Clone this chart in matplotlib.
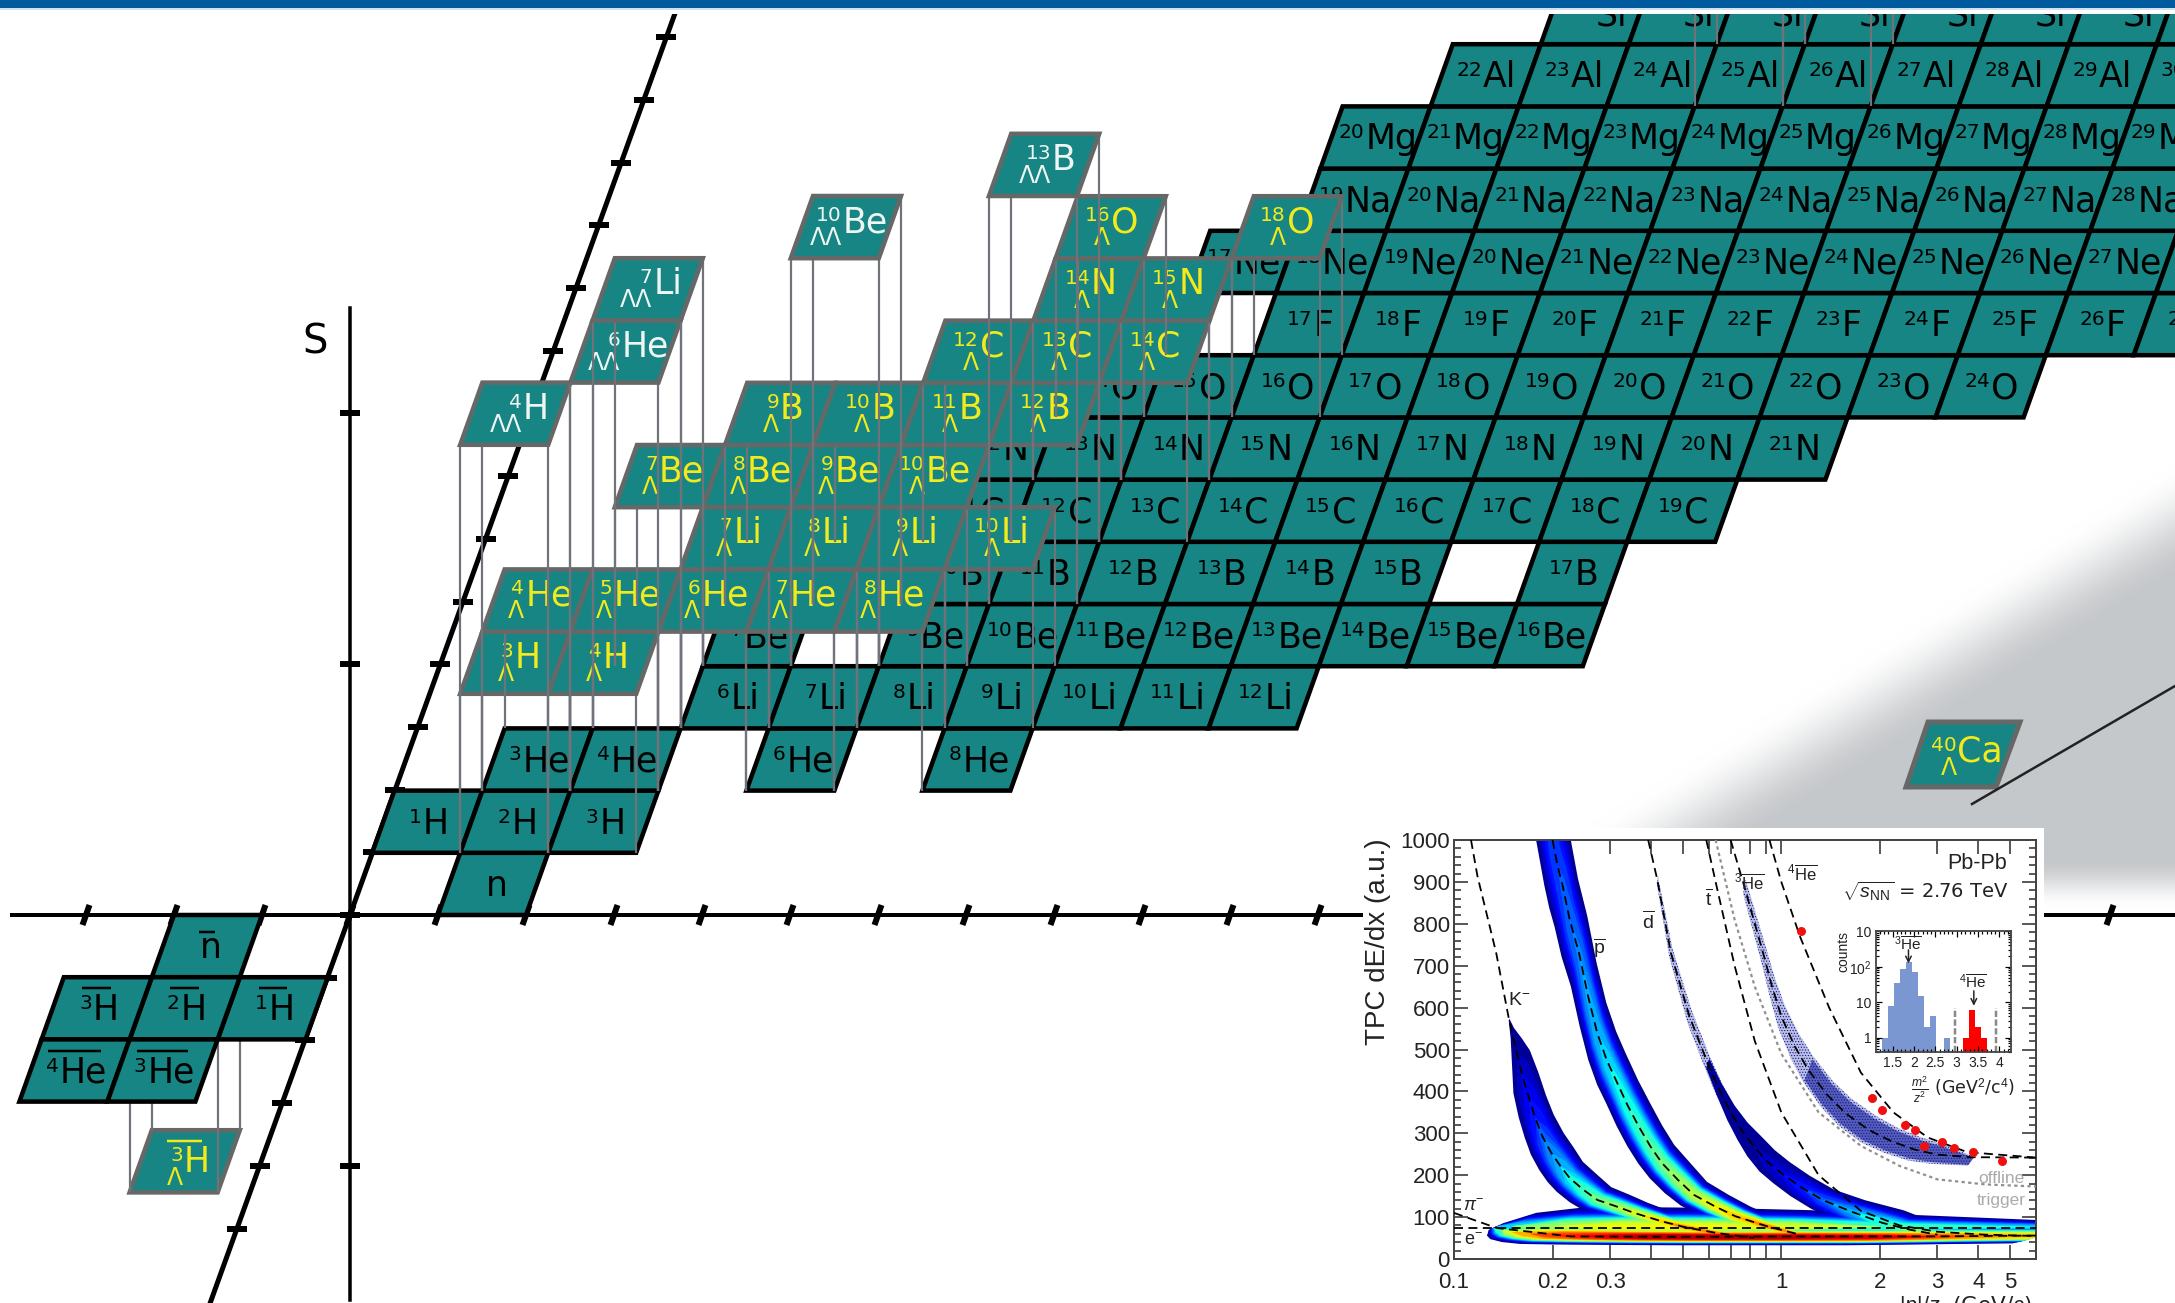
import numpy as np
import matplotlib
matplotlib.use("Agg")
import matplotlib.pyplot as plt
from matplotlib.font_manager import FontProperties
from matplotlib.patches import Polygon, Rectangle
from matplotlib.textpath import TextPath
from matplotlib.ticker import FixedLocator, NullFormatter

# nuclide chart: element, proton number, lightest and heaviest mass drawn
elements = ["H", "He", "Li", "Be", "B", "C", "N", "O", "F", "Ne", "Na", "Mg", "Al", "Si"]
element_z = [1, 2, 3, 4, 5, 6, 7, 8, 9, 10, 11, 12, 13, 14]
mass_min = [1, 3, 6, 7, 8, 9, 12, 14, 17, 17, 19, 20, 22, 24]
mass_max = [3, 8, 12, 16, 17, 19, 21, 24, 27, 28, 30, 32, 34, 36]
missing = [("He", 5), ("He", 7), ("Be", 8), ("B", 16)]

# single strange hypernuclei
hyper_sym = ["H", "H", "He", "He", "He", "He", "He", "Li", "Li", "Li", "Li", "Be", "Be", "Be", "Be",
             "B", "B", "B", "B", "C", "C", "C", "N", "N", "O", "O", "Al", "Al"]
hyper_z = [1, 1, 2, 2, 2, 2, 2, 3, 3, 3, 3, 4, 4, 4, 4, 5, 5, 5, 5, 6, 6, 6, 7, 7, 8, 8, 13, 13]
hyper_a = [3, 4, 4, 5, 6, 7, 8, 7, 8, 9, 10, 7, 8, 9, 10, 9, 10, 11, 12, 12, 13, 14, 14, 15, 16, 18, 26, 27]
hyper_n = [1, 2, 1, 2, 3, 4, 5, 3, 4, 5, 6, 2, 3, 4, 5, 3, 4, 5, 6, 5, 6, 7, 6, 7, 6, 8, 12, 13]

# double strange hypernuclei
double_sym = ["H", "He", "Li", "Be", "B"]
double_z = [1, 2, 3, 4, 5]
double_a = [4, 6, 7, 10, 13]
double_n = [1, 2, 2, 4, 6]

# antimatter
anti_sym = ["n", "H", "H", "H", "He", "He"]
anti_mass = [None, 1, 2, 3, 4, 3]
anti_n = [-2, -1, -2, -3, -3, -2]
anti_z = [-1, -2, -2, -2, -3, -3]

callout_x = [1972, 2175]
callout_y = [804, 686]

# TPC panel
k_line_p = [.1127, .118, .1346]
k_line_y = [1000, 913, 730]
k_p = np.array([.1473, .1507, .1558, .1609, .1689, .1773, .1861, .1984, .2118, .2258, .2487, .274, .312, .3553,
                .431, .507, .635, .825])
k_y = np.array([571, 539, 491, 444, 388, 336, 293, 253, 221, 193, 165, 141, 126, 110, 90, 76, 62, 50])
k_w = np.array([.002, .01, .03, .05, .06, .065, .07, .075, .08, .08, .085, .085, .085, .085, .085, .08, .06, .03])
k_peak = np.array([.022, .03, .05, .08, .12, .17, .22, .28, .33, .38, .44, .5, .55, .62, .7, .78, .8, .8])

pbar_p = np.array([.188, .2, .207, .215, .2258, .241, .257, .274, .2927, .312, .3385, .367, .398, .432, .483,
                   .541, .6255, .724, .905, 1.14])
pbar_y = np.array([1130, 1000, 940, 889, 809, 730, 626, 539, 475, 428, 368, 316, 269, 229, 189, 153, 126, 102, 78, 58])
pbar_w = np.array([.05, .05, .05, .05, .05, .05, .052, .055, .058, .06, .065, .07, .073, .075, .08, .08, .085, .09, .08, .03])
pbar_peak = np.array([.18, .2, .2, .22, .24, .26, .3, .33, .36, .38, .41, .43, .46, .5, .55, .6, .66, .72, .78, .8])

dbar_p = np.array([.596, .6465, .702, .7615, .824, .905, 1.0, 1.14, 1.336, 1.626, 2.04, 2.47, 3.0])
dbar_y = np.array([467, 404, 348, 304, 269, 233, 205, 173, 141, 114, 86, 70, 58])
dbar_w = np.array([.01, .015, .022, .03, .04, .047, .052, .06, .07, .09, .13, .12, .05])
dbar_peak = np.array([.025, .03, .035, .04, .05, .07, .1, .15, .22, .3, .4, .5, .55])

pion_p = np.array([.132, .14, .15, .17, .2, .25, .3, .4, .6, 1, 2, 3, 4, 6.2])
pion_y = np.array([74, 68, 64, 60, 57, 55, 54, 53, 52, 52, 52, 53, 54, 55])
pion_w = np.array([.03, .09, .13, .17, .2, .2, .2, .2, .2, .2, .2, .19, .18, .17])
pion_peak = np.array([.25, .45, .62, .76, .86, .92, .96, 1, 1, 1, .95, .85, .78, .72])

elec_p = np.array([.135, .15, .2, .3, .5, 1, 2, 6.2])
elec_y = np.array([78, 78, 78, 78, 77, 77, 77, 76])
elec_w = np.array([.04, .15, .2, .2, .2, .18, .14, .08])
elec_peak = np.array([.05, .35, .55, .65, .66, .62, .45, .34])

sparse_d_p = np.array([.418, .46, .524, .596, .6465, .702])
sparse_d_y = np.array([905, 730, 579, 467, 404, 348])
sparse_d_w = np.array([.004, .008, .012, .014, .016, .02])

he3_p = np.array([.771, .824, .88, .937, 1.0, 1.1, 1.21, 1.38, 1.57, 1.85, 2.17, 2.56, 3.0, 3.8])
he3_y = np.array([889, 809, 730, 650, 579, 507, 451, 392, 348, 308, 281, 261, 249, 233])
he3_w = np.array([.008, .01, .012, .015, .02, .025, .03, .035, .04, .045, .045, .045, .04, .02])

d_line_p = [.392, .418, .46, .524]
d_line_y = [1000, 905, 730, 579]
line_t_p = [.59, .63, .72, .83, 1.0, 1.3, 1.75, 2.3, 3.0, 4.2, 6.0]
line_t_y = [1000, 900, 700, 520, 350, 200, 115, 80, 65, 58, 55]
line_he3_p = [.7, .771, .824, .88, .937, 1.0, 1.1, 1.21, 1.38, 1.57, 1.85, 2.17, 2.56, 3.0, 3.8, 6.0]
line_he3_y = [1000, 889, 809, 730, 650, 579, 507, 451, 392, 348, 308, 281, 261, 249, 243, 242]
line_he4_p = [.92, 1.0, 1.14, 1.4, 1.75, 2.2, 2.8, 3.7, 6.0]
line_he4_y = [1000, 900, 770, 600, 445, 350, 290, 255, 242]
line_offline_p = [.63, .72, .83, 1.0, 1.3, 1.75, 2.3, 3.0, 4.2, 6.0]
line_offline_y = [1000, 810, 650, 490, 350, 270, 222, 190, 178, 173]
line_pi_p = [.1, .135, .227, .5, 1, 3, 6.0]
line_pi_y = [110, 74, 54, 53, 54, 54, 56]
line_e_p = [.1, 6.0]
line_e_y = [73, 73]

red_p = [1.149, 1.891, 2.037, 2.394, 2.556, 2.725, 3.10, 3.36, 3.85, 4.74]
red_y = [783, 385, 355, 320, 309, 270, 280, 266, 255, 235]

x_ticks = [.1, .2, .3, .4, .5, .6, .7, .8, .9, 1, 2, 3, 4, 5]
x_labels = ["0.1", "0.2", "0.3", "", "", "", "", "", "", "1", "2", "3", "4", "5"]

# mass squared histogram
blue_left = [1.25, 1.39, 1.53, 1.67, 1.81, 1.96, 2.10, 2.24, 2.38, 2.70]
blue_counts = [1, 8, 36, 85, 140, 70, 15, 2, 4, 1]
red_left = [3.15, 3.29, 3.43, 3.57]
red_counts = [1, 6, 2, 1]
bin_w = 0.143
cut_x = [2.97, 3.91]

W, H = 2175, 1303
OX, OY = 350, 915
CELL_W, ROW_H, SKEW = 88, 62.2, 22.2
Z_TICK_H, Z_TICK_DX = 62.7, 22.6
LIFT = {0: 0, 1: 159, 2: 408, -1: -153}
TEAL = "#168583"
GREY = "#666868"
YELLOW = "#f2ea1c"
SYM_PT, SUP_PT, LAM_PT = 25, 14.5, 17

plt.rcParams["mathtext.fontset"] = "custom"
plt.rcParams["mathtext.rm"] = "Liberation Sans"
plt.rcParams["mathtext.it"] = "Liberation Sans:italic"
plt.rcParams["mathtext.bf"] = "Liberation Sans:bold"
plt.rcParams["hatch.linewidth"] = 0.5

fig = plt.figure(figsize=(W / 100, H / 100), dpi=100)
ax = fig.add_axes([0, 0, 1, 1])


def px(v):
    return v * 0.72


def cell_xy(n, z, s):
    x = OX + n * CELL_W + z * SKEW
    y = OY - z * ROW_H - LIFT[s]
    return [(x, y), (x + CELL_W, y), (x + CELL_W + SKEW, y - ROW_H), (x + SKEW, y - ROW_H)]


def text_w(s, size):
    if not s:
        return 0
    return TextPath((0, 0), s, size=size, prop=FontProperties(family="DejaVu Sans")).get_extents().width * 100 / 72


def label(n, z, s, sym, mass, color, layer, bar=False):
    pts = cell_xy(n, z, s)
    cx = sum(p[0] for p in pts) / 4
    cy = sum(p[1] for p in pts) / 4
    sup = "" if mass is None else str(mass)
    marks = "\u039b" * abs(s)
    left_w = max(text_w(sup, SUP_PT), text_w(marks, LAM_PT))
    sym_w = text_w(sym, SYM_PT)
    split = cx - (left_w + sym_w) / 2 + left_w
    base = cy + 12 if s == 0 else cy + 5
    if s < 0:
        base = cy + 11
    ax.text(split + 1, base, sym, fontsize=SYM_PT, color=color, ha="left", va="baseline", zorder=layer,
            family="DejaVu Sans")
    ax.text(split, base - 11, sup, fontsize=SUP_PT, color=color, ha="right", va="baseline", zorder=layer,
            family="DejaVu Sans")
    if marks:
        ax.text(split, base + 13, marks, fontsize=LAM_PT, color=color, ha="right", va="baseline", zorder=layer,
                family="DejaVu Sans")
    if bar:
        top = cy - (14 if sym == "n" else 20)
        ax.plot([cx - (left_w + sym_w) / 2, cx + (left_w + sym_w) / 2], [top, top], color=color, lw=px(2.5),
                zorder=layer, solid_capstyle="butt")


def risers(n, z, s, layer):
    lift = LIFT[s]
    for x, y in cell_xy(n, z, s):
        ax.plot([x, x], [y, y + lift], color="#70737a", lw=px(2.2), zorder=layer, solid_capstyle="butt")


def cell(n, z, s, edge, layer):
    ax.add_patch(Polygon(cell_xy(n, z, s), closed=True, facecolor=TEAL, edgecolor=edge, lw=px(4.5),
                         joinstyle="miter", zorder=layer))


# grey wedge behind the chart
gx, gy = np.meshgrid(np.arange(0, W, 3), np.arange(0, H, 3))
edge_dist = (gy - (812 - 0.62 * (gx - 1700))) / 55
fade = (908 - gy) / 48
wedge = np.clip(edge_dist * 0.5 + 0.5, 0, 1) * np.clip(fade, 0, 1)
wedge = wedge * wedge * (3 - 2 * wedge)
rgba = np.ones(gx.shape + (3,))
for i, c in enumerate((0.775, 0.785, 0.795)):
    rgba[..., i] = 1 - wedge * (1 - c)
ax.imshow(rgba, extent=(0, W, H, 0), zorder=0, aspect="auto", interpolation="bilinear")

# axes of the chart
z_slant = Z_TICK_DX / Z_TICK_H
ax.plot([OX - (H - OY) * z_slant, OX + (OY - 14) * z_slant], [H, 14], color="black", lw=px(5), zorder=1)
ax.plot([12, W], [OY, OY], color="black", lw=px(4), zorder=1)
ax.plot([OX, OX], [308, 1300], color="black", lw=px(3.5), zorder=1)
for k in range(-3, 21):
    tx = OX + k * CELL_W
    ax.plot([tx - 3.5, tx + 3.5], [OY + 10, OY - 10], color="black", lw=px(6), zorder=1, solid_capstyle="butt")
for k in range(-5, 15):
    ty = OY - k * Z_TICK_H
    tx = OX + k * Z_TICK_DX
    ax.plot([tx - 10, tx + 10], [ty, ty], color="black", lw=px(6), zorder=1, solid_capstyle="butt")
for ty in [413, 664, 915, 1166]:
    ax.plot([OX - 10, OX + 10], [ty, ty], color="black", lw=px(6), zorder=1, solid_capstyle="butt")
ax.text(315, 354, "S", fontsize=29, color="black", ha="center", va="baseline", family="DejaVu Sans")

# antihypernucleus sits below the antimatter cells
cell(-2, -2, -1, GREY, 1.5)
label(-2, -2, -1, "H", 3, YELLOW, 1.6, bar=True)
risers(-2, -2, -1, 1.7)

# n is the one cell that has no element row
cell(1, 0, 0, "black", 2)
label(1, 0, 0, "n", None, "black", 2.1)
for sym, z, lo, hi in zip(elements, element_z, mass_min, mass_max):
    for a in range(lo, hi + 1):
        if (sym, a) in missing:
            continue
        cell(a - z, z, 0, "black", 2)
for sym, z, lo, hi in zip(elements, element_z, mass_min, mass_max):
    for a in range(lo, hi + 1):
        if (sym, a) not in missing:
            label(a - z, z, 0, sym, a, "black", 2.1)

for sym, mass, n, z in zip(anti_sym, anti_mass, anti_n, anti_z):
    cell(n, z, 0, "black", 2)
    label(n, z, 0, sym, mass, "black", 2.1, bar=True)

# strange layers, lower rows first so the risers of the back rows run over them
layer = 3.0
rows = sorted(zip(hyper_z, hyper_n, hyper_a, hyper_sym))
for z in sorted(set(hyper_z)):
    row = [r for r in rows if r[0] == z]
    for r in row:
        risers(r[1], z, 1, layer)
    layer += 0.01
    for r in row:
        cell(r[1], z, 1, GREY, layer)
    layer += 0.01
    for r in row:
        label(r[1], z, 1, r[3], r[2], YELLOW, layer)
    layer += 0.01

for sym, z, a, n in zip(double_sym, double_z, double_a, double_n):
    risers(n, z, 2, layer)
    layer += 0.01
    cell(n, z, 2, GREY, layer)
    layer += 0.01
    label(n, z, 2, sym, a, "#eef6f4", layer)
    layer += 0.01

# hypercalcium and its pointer
ax.add_patch(Polygon([(1906, 787), (1996, 787), (2020, 722), (1928, 722)], closed=True, facecolor=TEAL,
                     edgecolor=GREY, lw=px(5), joinstyle="miter", zorder=layer))
ax.text(1957, 762, "Ca", fontsize=SYM_PT, color=YELLOW, ha="left", va="baseline", zorder=layer, family="DejaVu Sans")
ax.text(1957, 751, "40", fontsize=SUP_PT, color=YELLOW, ha="right", va="baseline", zorder=layer, family="DejaVu Sans")
ax.text(1957, 775, "\u039b", fontsize=LAM_PT, color=YELLOW, ha="right", va="baseline", zorder=layer, family="DejaVu Sans")
ax.plot(callout_x, callout_y, color="#222222", lw=px(2.5), zorder=layer)

# top band of the slide, hides whatever runs past the edge
ax.add_patch(Rectangle((0, 8), W, 6, facecolor="white", edgecolor="none", zorder=8))
ax.add_patch(Rectangle((0, 0), W, 8, facecolor="#005a9e", edgecolor="none", zorder=9))
ax.add_patch(Rectangle((0, 8), W, 1.5, facecolor="#cfe2f0", edgecolor="none", zorder=9))
ax.add_patch(Rectangle((1363, 828), 2044 - 1363, H - 828, facecolor="white", edgecolor="none", zorder=8))

ax.set_xlim(0, W)
ax.set_ylim(H, 0)
ax.axis("off")

# TPC panel
L, R, T, B = 1454, 2036, 840, 1259
tpc = fig.add_axes([L / W, 1 - B / H, (R - L) / W, (B - T) / H], zorder=10)
tpc.set_xscale("log")
tpc.set_xlim(0.1, 6.0)
tpc.set_ylim(0, 1000)

levels = np.linspace(0.02, 1, 26)
jet = plt.get_cmap("jet")
bands = [(elec_p, elec_y, elec_w, elec_peak), (k_p, k_y, k_w, k_peak), (pbar_p, pbar_y, pbar_w, pbar_peak),
         (dbar_p, dbar_y, dbar_w, dbar_peak), (pion_p, pion_y, pion_w, pion_peak)]


def band_edges(p, y, w, h=1.0):
    up_x = p * 10 ** (w * h * 0.5)
    up_y = y * 10 ** (w * h)
    lo_x = p / 10 ** (w * h * 0.5)
    lo_y = y / 10 ** (w * h)
    return np.concatenate([up_x, lo_x[::-1]]), np.concatenate([up_y, lo_y[::-1]])


for p, y, w in [(sparse_d_p, sparse_d_y, sparse_d_w), (he3_p, he3_y, he3_w)]:
    xs, ys = band_edges(p, y, w)
    tpc.fill(xs, ys, facecolor="#2030a0", alpha=0.3, lw=0, zorder=1)
    tpc.fill(xs, ys, facecolor="none", edgecolor="#10109a", hatch="......", lw=0, zorder=1)
low = he3_p >= 1.2
xs, ys = band_edges(he3_p[low], he3_y[low], he3_w[low] * 0.8)
tpc.fill(xs, ys, facecolor="#101a9a", alpha=0.6, lw=0, zorder=1)

for level in levels:
    for p, y, w, peak in bands:
        peak = np.maximum(peak, levels[0] * 1.001)
        h = np.clip(np.log(peak / level) / np.log(peak / levels[0]), 0, None) ** 0.35
        xs, ys = band_edges(p, y, w, h)
        tpc.fill(xs, ys, facecolor=jet(level), lw=0, zorder=2)

dash = (0, (5, 3))
for p, y in [(k_line_p + list(k_p), k_line_y + list(k_y)), (pbar_p[1:], pbar_y[1:]),
             (d_line_p + list(dbar_p), d_line_y + list(dbar_y)), (line_t_p, line_t_y), (line_he3_p, line_he3_y),
             (line_he4_p, line_he4_y), (line_pi_p, line_pi_y), (line_e_p, line_e_y)]:
    tpc.plot(p, y, color="black", lw=px(1.8), ls=dash, zorder=3)
tpc.plot(line_offline_p, line_offline_y, color="#909090", lw=px(2.2), ls=(0, (1.5, 1.5)), zorder=3)
tpc.plot(red_p, red_y, "o", color="#f01010", ms=px(9), mew=0, zorder=4)

tpc.set_yticks(np.arange(0, 1001, 100))
tpc.yaxis.set_minor_locator(FixedLocator(np.arange(0, 1001, 20)))
tpc.xaxis.set_major_locator(FixedLocator(x_ticks))
tpc.set_xticklabels(x_labels)
tpc.xaxis.set_minor_formatter(NullFormatter())
tpc.tick_params(which="major", direction="in", top=True, right=True, length=px(14), width=px(1.6), color="#333333")
tpc.tick_params(which="minor", direction="in", top=False, right=True, left=True, length=px(7), width=px(1.6), color="#333333")
tpc.tick_params(axis="y", which="major", pad=3)
tpc.tick_params(axis="x", which="major", pad=9)
for t in tpc.get_xticklabels() + tpc.get_yticklabels():
    t.set_fontsize(16)
    t.set_family("Liberation Sans")
    t.set_color("#222222")
for sp in tpc.spines.values():
    sp.set_linewidth(px(2))
    sp.set_color("#444444")
tpc.set_ylabel("TPC dE/dx (a.u.)", fontsize=20, family="Liberation Sans", color="#222222")
tpc.yaxis.set_label_coords(-0.108, 0.757)
tpc.text(0.765, -0.113, r"$|p|/z$  (GeV/$c$)", fontsize=15.5, transform=tpc.transAxes, ha="left", va="center", color="#222222")

inset_labels = [(.158, 618, r"K$^{-}$", 14, "#222222"), (.279, 742, r"$\overline{\mathrm{p}}$", 14, "#222222"),
                (.392, 805, r"$\overline{\mathrm{d}}$", 14, "#222222"), (.6, 860, r"$\overline{\mathrm{t}}$", 14, "#222222"),
                (.795, 900, r"$^{3}\overline{\mathrm{He}}$", 12, "#222222"), (1.16, 920, r"$^{4}\overline{\mathrm{He}}$", 12, "#222222"),
                (.115, 125, r"$\pi^{-}$", 13, "#222222"), (.115, 45, r"e$^{-}$", 13, "#222222"),
                (4.7, 192, "offline", 12.5, "#aaaaaa"), (4.7, 140, "trigger", 12.5, "#aaaaaa")]
for x, y, s, size, col in inset_labels:
    tpc.text(x, y, s, fontsize=size, color=col, ha="center", va="center", family="Liberation Sans", zorder=5)
tpc.text(4.9, 945, "Pb-Pb", fontsize=15.5, ha="right", va="center", color="#222222", family="Liberation Sans")
tpc.text(4.95, 878, r"$\sqrt{s_{\mathrm{NN}}}$ = 2.76 TeV", fontsize=14, ha="right", va="center", color="#222222")

# mass histogram inside the panel
il, ir, it, ib = 1876, 2011, 931, 1052
hist = fig.add_axes([il / W, 1 - ib / H, (ir - il) / W, (ib - it) / H], zorder=11)
hist.set_yscale("log")
hist.set_xlim(1.11, 4.27)
hist.set_ylim(0.4, 1020)
hist.bar(blue_left, blue_counts, width=bin_w, align="edge", color="#7b97d1", bottom=0.01)
hist.bar(red_left, red_counts, width=bin_w, align="edge", color="#ff0000", bottom=0.01)
for cx in cut_x:
    hist.plot([cx, cx], [0.4, 7], color="#888888", lw=px(2.5), ls=(0, (2.5, 1)))
hist.set_xticks([1.5, 2, 2.5, 3, 3.5, 4])
hist.set_xticklabels(["1.5", "2", "2.5", "3", "3.5", "4"])
hist.set_yticks([1, 10, 100, 1000])
hist.set_yticklabels(["1", "10", r"10$^{2}$", "10"])
hist.xaxis.set_minor_locator(FixedLocator(np.arange(1.2, 4.3, 0.1)))
hist.tick_params(which="major", direction="in", top=True, right=True, length=px(6), width=px(1.2), pad=3, labelsize=10)
hist.tick_params(which="minor", direction="in", top=True, right=True, length=px(3), width=px(1.2))
hist.yaxis.set_minor_formatter(NullFormatter())
for t in hist.get_xticklabels() + hist.get_yticklabels():
    t.set_family("Liberation Sans")
    t.set_color("#222222")
for sp in hist.spines.values():
    sp.set_linewidth(px(1.8))
    sp.set_color("#444444")
hist.text(-0.24, 0.83, "counts", rotation=90, fontsize=10, transform=hist.transAxes, ha="center", va="center", color="#222222", family="Liberation Sans")
hist.text(1.85, 420, r"$^{3}\overline{\mathrm{He}}$", fontsize=11, ha="center", va="center", color="#222222")
hist.annotate("", xy=(1.87, 125), xytext=(1.87, 300), arrowprops=dict(arrowstyle="->", lw=px(1.5), color="#222222", shrinkA=0, shrinkB=0))
hist.text(3.37, 35, r"$^{4}\overline{\mathrm{He}}$", fontsize=11, ha="center", va="center", color="#222222")
hist.annotate("", xy=(3.4, 8), xytext=(3.4, 21), arrowprops=dict(arrowstyle="->", lw=px(1.5), color="#222222", shrinkA=0, shrinkB=0))
hist.text(0.64, -0.31, r"$\frac{m^{2}}{z^{2}}$ (GeV$^{2}$/c$^{4}$)", fontsize=12.5, transform=hist.transAxes, ha="center", va="center", color="#222222")

fig.savefig("out.png", dpi=100)
